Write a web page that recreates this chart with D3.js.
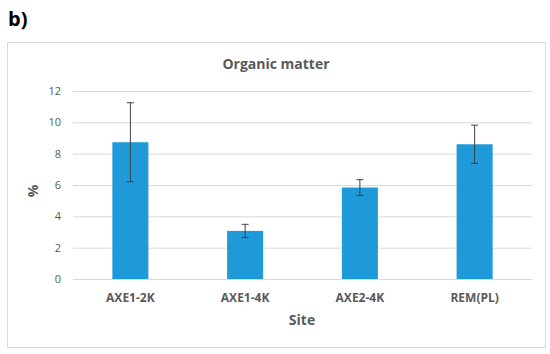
<!DOCTYPE html>
<html>
<head>
<meta charset="utf-8">
<script src="https://cdn.jsdelivr.net/npm/d3@7"></script>
<style>
  body { margin: 0; background: #fff; }
  svg { display: block; font-family: "Open Sans", sans-serif; }
</style>
</head>
<body>
<svg id="svg" width="550" height="354"></svg>
<script>
// values
var sites = ["AXE1-2K", "AXE1-4K", "AXE2-4K", "REM(PL)"];
var organicMatter = [8.73, 3.07, 5.84, 8.6];
var errors = [2.52, 0.42, 0.5, 1.22];
var yTicks = [0, 2, 4, 6, 8, 10, 12];

var svg = d3.select("#svg");
var grey = "#595959";

// panel letter
svg.append("text")
  .attr("x", 8)
  .attr("y", 26)
  .style("font-size", "20px")
  .style("font-weight", "bold")
  .attr("fill", "#000")
  .text("b)");

// chart border
svg.append("rect")
  .attr("x", 7.5)
  .attr("y", 42.5)
  .attr("width", 538)
  .attr("height", 305)
  .attr("fill", "#fff")
  .attr("stroke", "#d9d9d9");

var xScale = d3.scaleBand()
  .domain(sites)
  .range([73, 532])
  .paddingInner(0.686)
  .paddingOuter(0.343);

var yScale = d3.scaleLinear()
  .domain([0, 12])
  .range([279, 91]);

// gridlines + y labels
var yAxis = svg.append("g")
  .attr("transform", "translate(73, 0)")
  .call(d3.axisLeft(yScale).tickValues(yTicks).tickSize(-(532 - 73)).tickPadding(12));
yAxis.select(".domain").remove();
yAxis.selectAll(".tick line").attr("stroke", "#d9d9d9");
yAxis.selectAll(".tick text")
  .attr("fill", grey)
  .style("font-size", "11px")
  .style("font-family", "'Open Sans', sans-serif");

// x axis
var xAxis = svg.append("g")
  .attr("transform", "translate(0, 279)")
  .call(d3.axisBottom(xScale).tickSize(0).tickPadding(14));
xAxis.select(".domain").attr("stroke", "#d9d9d9");
xAxis.selectAll(".tick text")
  .attr("fill", grey)
  .style("font-size", "12px")
  .style("font-weight", "bold")
  .style("font-family", "'Open Sans', sans-serif");

// bars
svg.selectAll(".bar")
  .data(sites)
  .enter()
  .append("rect")
  .attr("class", "bar")
  .attr("x", d => xScale(d))
  .attr("width", xScale.bandwidth())
  .attr("y", (d, i) => yScale(organicMatter[i]))
  .attr("height", (d, i) => yScale(0) - yScale(organicMatter[i]))
  .attr("fill", "#1f9ad8");

// error bars
var capWidth = 7;
var eb = svg.selectAll(".err")
  .data(sites)
  .enter()
  .append("g")
  .attr("class", "err")
  .attr("stroke", "#404040")
  .attr("stroke-width", 1);
eb.append("line")
  .attr("x1", d => xScale(d) + xScale.bandwidth() / 2)
  .attr("x2", d => xScale(d) + xScale.bandwidth() / 2)
  .attr("y1", (d, i) => yScale(organicMatter[i] - errors[i]))
  .attr("y2", (d, i) => yScale(organicMatter[i] + errors[i]));
eb.append("line")
  .attr("x1", d => xScale(d) + xScale.bandwidth() / 2 - capWidth / 2)
  .attr("x2", d => xScale(d) + xScale.bandwidth() / 2 + capWidth / 2)
  .attr("y1", (d, i) => yScale(organicMatter[i] + errors[i]))
  .attr("y2", (d, i) => yScale(organicMatter[i] + errors[i]));
eb.append("line")
  .attr("x1", d => xScale(d) + xScale.bandwidth() / 2 - capWidth / 2)
  .attr("x2", d => xScale(d) + xScale.bandwidth() / 2 + capWidth / 2)
  .attr("y1", (d, i) => yScale(organicMatter[i] - errors[i]))
  .attr("y2", (d, i) => yScale(organicMatter[i] - errors[i]));

// title
svg.append("text")
  .attr("x", 276)
  .attr("y", 69)
  .attr("text-anchor", "middle")
  .attr("fill", grey)
  .style("font-size", "14px")
  .style("font-weight", "bold")
  .text("Organic matter");

// axis titles
svg.append("text")
  .attr("x", 302)
  .attr("y", 325)
  .attr("text-anchor", "middle")
  .attr("fill", grey)
  .style("font-size", "14px")
  .style("font-weight", "bold")
  .text("Site");

svg.append("text")
  .attr("transform", "translate(38, 191) rotate(-90)")
  .attr("text-anchor", "middle")
  .attr("fill", grey)
  .style("font-size", "14px")
  .style("font-weight", "bold")
  .text("%");
</script>
</body>
</html>
